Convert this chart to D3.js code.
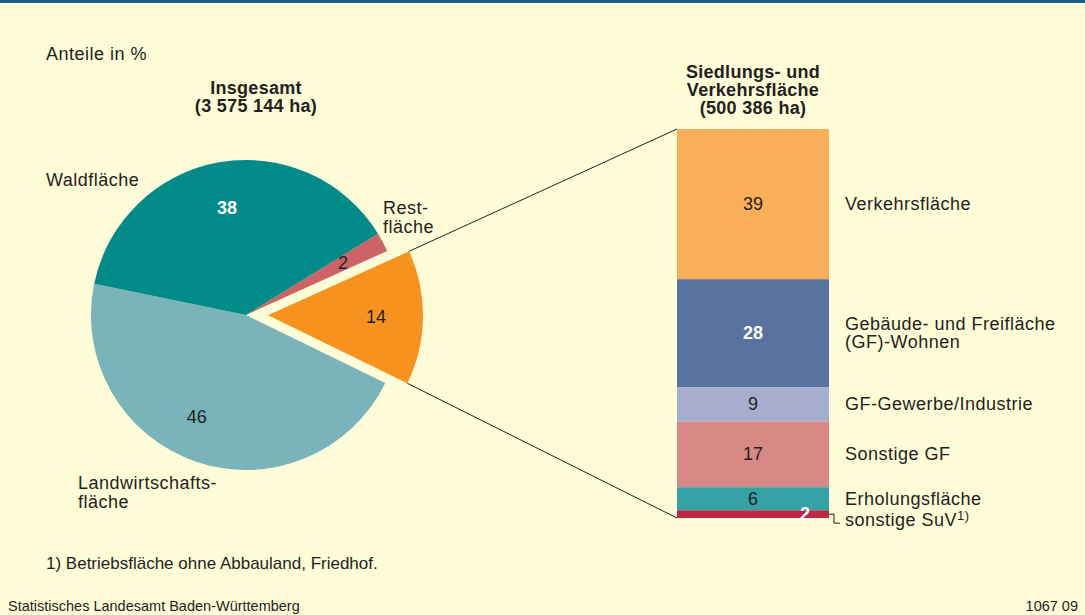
<!DOCTYPE html>
<html>
<head>
<meta charset="utf-8">
<script src="https://cdn.jsdelivr.net/npm/d3@7"></script>
<style>
  body { margin: 0; background: #fffcd8; }
  svg { display: block; font-family: "Liberation Sans", Arial, sans-serif; }
</style>
</head>
<body>
<div id="chart"></div>
<script>
// ---------------------------//
//            DATA            //
// ---------------------------//

var pieCategories = ["Restfläche", "Siedlungs- und Verkehrsfläche", "Landwirtschaftsfläche", "Waldfläche"];
var pieValues = [2, 14, 46, 38];
var pieColors = ["#cd6366", "#f7921e", "#78b4ba", "#008b8a"];

var barCategories = ["Verkehrsfläche", "Gebäude- und Freifläche (GF)-Wohnen", "GF-Gewerbe/Industrie", "Sonstige GF", "Erholungsfläche", "sonstige SuV"];
var barValues = [39, 28, 9, 17, 6, 2];
var barColors = ["#f9ae5a", "#5873a0", "#a7aecd", "#d98985", "#35a2a5", "#c02744"];

// ---------------------------//
//         DIMENSIONS         //
// ---------------------------//

var width = 1085;
var height = 615;
var cx = 246, cy = 315, radius = 155;
var explode = 22;
var textColor = "#231f20";
var fs = 18, ls = "0.5px";

var svg = d3.select("#chart")
  .append("svg")
  .attr("width", width)
  .attr("height", height)
  .attr("viewBox", [0, 0, width, height]);

svg.append("rect")
  .attr("width", width).attr("height", height)
  .attr("fill", "#fffcd8");

svg.append("rect")
  .attr("width", width).attr("height", 3)
  .attr("fill", "#1d5a8a");

// ---------------------------//
//             PIE            //
// ---------------------------//

var deg = Math.PI / 180;
var pie = d3.pie().sort(null)
  .startAngle(58.4 * deg)
  .endAngle(418.4 * deg);

var arcs = pie(pieValues);
var arc = d3.arc().innerRadius(0).outerRadius(radius);

function offset(d, i) {
  if (i !== 1) return [0, 0];
  var a = (d.startAngle + d.endAngle) / 2;
  return [explode * Math.sin(a), -explode * Math.cos(a)];
}

var pieG = svg.append("g").attr("transform", "translate(" + cx + "," + cy + ")");

pieG.selectAll("path")
  .data(arcs)
  .enter()
  .append("path")
  .attr("d", arc)
  .attr("fill", function(d, i) { return pieColors[i]; })
  .attr("transform", function(d, i) { return "translate(" + offset(d, i) + ")"; });

// label placement: radius and small angle shift per slice
var labelR = [110, 108, 113, 109];
var labelShift = [0, 0, 7, 0];

function labelPos(d, i) {
  var a = (d.startAngle + d.endAngle) / 2 + labelShift[i] * deg;
  var o = offset(d, i);
  return [labelR[i] * Math.sin(a) + o[0], -labelR[i] * Math.cos(a) + o[1]];
}

pieG.selectAll("text.val")
  .data(arcs)
  .enter()
  .append("text")
  .attr("class", "val")
  .attr("x", function(d, i) { return labelPos(d, i)[0]; })
  .attr("y", function(d, i) { return labelPos(d, i)[1] + 6; })
  .attr("text-anchor", "middle")
  .style("font-size", fs + "px")
  .style("font-weight", function(d, i) { return i === 3 ? "bold" : "normal"; })
  .attr("fill", function(d, i) { return i === 3 ? "#fff" : textColor; })
  .text(function(d) { return d.data; });

// ---------------------------//
//             BAR            //
// ---------------------------//

var barX = 677, barW = 152, barTop = 129, barBottom = 518;
var total = d3.sum(barValues);
var y = d3.scaleLinear().domain([0, total]).range([barTop, barBottom]);
var cum = d3.cumsum(barValues);
var starts = barValues.map(function(v, i) { return cum[i] - v; });

svg.selectAll("rect.seg")
  .data(barValues)
  .enter()
  .append("rect")
  .attr("class", "seg")
  .attr("x", barX)
  .attr("width", barW)
  .attr("y", function(d, i) { return y(starts[i]); })
  .attr("height", function(d) { return y(d) - y(0); })
  .attr("fill", function(d, i) { return barColors[i]; });

svg.selectAll("text.seg")
  .data(barValues)
  .enter()
  .append("text")
  .attr("class", "seg")
  .attr("x", function(d, i) { return i === 5 ? barX + 128 : barX + barW / 2; })
  .attr("y", function(d, i) { return (y(starts[i]) + y(cum[i])) / 2 + 6; })
  .attr("text-anchor", "middle")
  .style("font-size", fs + "px")
  .style("font-weight", function(d, i) { return (i === 1 || i === 5) ? "bold" : "normal"; })
  .attr("fill", function(d, i) { return (i === 1 || i === 5) ? "#fff" : textColor; })
  .text(function(d) { return d; });

// category labels of the bar
var barLabelLines = [["Verkehrsfläche"], ["Gebäude- und Freifläche", "(GF)-Wohnen"], ["GF-Gewerbe/Industrie"], ["Sonstige GF"], ["Erholungsfläche"], ["sonstige SuV"]];
var labelYOff = [0, 0, 0, 0, 0, 6];

barLabelLines.forEach(function(lines, i) {
  var mid = (y(starts[i]) + y(cum[i])) / 2 + labelYOff[i];
  var t = svg.append("text")
    .attr("x", 845)
    .attr("y", mid + 6 - (lines.length - 1) * 9)
    .style("font-size", fs + "px")
    .style("letter-spacing", ls)
    .attr("fill", textColor);
  lines.forEach(function(l, j) {
    t.append("tspan").attr("x", 845).attr("dy", j === 0 ? 0 : 18).text(l);
  });
  if (i === 5) {
    t.append("tspan").attr("dy", -6).style("font-size", "13px").text("1)");
  }
});

// bracket for sonstige SuV
var ySuv = (y(starts[5]) + y(cum[5])) / 2;
svg.append("path")
  .attr("d", "M" + (barX + barW) + "," + ySuv + "H834V" + (ySuv + 9) + "H840")
  .attr("fill", "none")
  .attr("stroke", textColor)
  .attr("stroke-width", 1);

// ---------------------------//
//       CONNECTOR LINES      //
// ---------------------------//

var sd = arcs[1];
var so = offset(sd, 1);
function edgePoint(a) {
  return [cx + so[0] + radius * Math.sin(a), cy + so[1] - radius * Math.cos(a)];
}
var p1 = edgePoint(sd.startAngle), p2 = edgePoint(sd.endAngle);

svg.append("line")
  .attr("x1", p1[0]).attr("y1", p1[1]).attr("x2", barX).attr("y2", barTop)
  .attr("stroke", textColor).attr("stroke-width", 1);
svg.append("line")
  .attr("x1", p2[0]).attr("y1", p2[1]).attr("x2", barX).attr("y2", barBottom)
  .attr("stroke", textColor).attr("stroke-width", 1);

// ---------------------------//
//           TEXTS            //
// ---------------------------//

function multiText(lines, x, y0, anchor, weight, size, lh, spacing) {
  var t = svg.append("text")
    .attr("x", x).attr("y", y0)
    .attr("text-anchor", anchor)
    .style("font-size", size + "px")
    .style("font-weight", weight)
    .style("letter-spacing", spacing || "0px")
    .attr("fill", textColor);
  lines.forEach(function(l, j) {
    t.append("tspan").attr("x", x).attr("dy", j === 0 ? 0 : lh).text(l);
  });
}

multiText(["Anteile in %"], 46, 60, "start", "normal", fs, 18, ls);
multiText(["Insgesamt", "(3 575 144 ha)"], 256, 94, "middle", "bold", fs, 18, "0.3px");
multiText(["Siedlungs- und", "Verkehrsfläche", "(500 386 ha)"], 753, 78, "middle", "bold", fs, 18, "0.3px");
multiText(["Waldfläche"], 46, 186, "start", "normal", fs, 18, ls);
multiText(["Rest-", "fläche"], 383, 214, "start", "normal", fs, 19, ls);
multiText(["Landwirtschafts-", "fläche"], 78, 489, "start", "normal", fs, 19, ls);
multiText(["1) Betriebsfläche ohne Abbauland, Friedhof."], 46, 569, "start", "normal", 17, 16);
multiText(["Statistisches Landesamt Baden-Württemberg"], 8, 611, "start", "normal", 14.5, 14);
multiText(["1067 09"], 1078, 611, "end", "normal", 14.5, 14);
</script>
</body>
</html>
